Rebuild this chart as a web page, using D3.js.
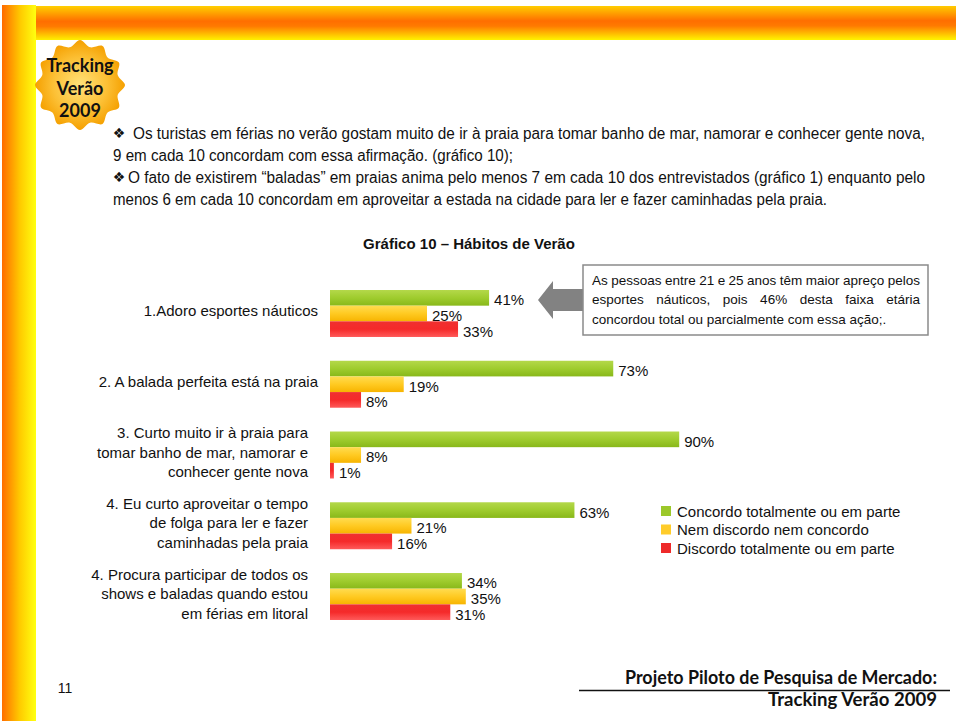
<!DOCTYPE html>
<html><head><meta charset="utf-8">
<script src="https://cdn.jsdelivr.net/npm/d3@7"></script>
<style>body{margin:0;background:#fff}svg{display:block}text{font-family:"Liberation Sans",Arial,sans-serif;fill:#111}</style>
</head><body>
<svg id="c" width="960" height="726"></svg>
<script>
const categories = [
  ["1.Adoro esportes náuticos"],
  ["2. A balada perfeita está na praia"],
  ["3. Curto muito ir à praia para", "tomar banho de mar, namorar e", "conhecer gente nova"],
  ["4. Eu curto aproveitar o tempo", "de folga para ler e fazer", "caminhadas pela praia"],
  ["4. Procura participar de todos os", "shows e baladas quando estou", "em férias em litoral"]
];
const concordo = [41, 73, 90, 63, 34];
const neutro   = [25, 19, 8, 21, 35];
const discordo = [33, 8, 1, 16, 31];
const seriesNames = ["Concordo totalmente ou em parte", "Nem discordo nem concordo", "Discordo totalmente ou em parte"];
const chartTitle = "Gráfico 10 – Hábitos de Verão";
const calloutLines = ["As pessoas entre 21 e 25 anos têm maior apreço pelos", "esportes náuticos, pois 46% desta faixa etária", "concordou total ou parcialmente com essa ação;."];
const bulletLines = [
  "Os turistas em férias no verão gostam muito de ir à praia para tomar banho de mar, namorar e conhecer gente nova,",
  "9 em cada 10 concordam com essa afirmação.  (gráfico 10);",
  "O fato de existirem “baladas” em praias anima pelo menos 7 em cada 10 dos entrevistados (gráfico 1) enquanto pelo",
  "menos 6 em cada 10 concordam em aproveitar a estada na cidade para ler e fazer caminhadas pela praia."
];
const logoLines = ["Tracking", "Verão", "2009"];
const footerLines = ["Projeto Piloto de Pesquisa de Mercado:", "Tracking Verão 2009"];
const pageNumber = "11";

const svg = d3.select("#c");
const defs = svg.append("defs");
function lg(id, stops, x2, y2){
  const g = defs.append("linearGradient").attr("id", id).attr("x1",0).attr("y1",0).attr("x2",x2).attr("y2",y2);
  stops.forEach(s => g.append("stop").attr("offset", s[0]).attr("stop-color", s[1]));
}
lg("gTop", [[0,"#ffd000"],[0.45,"#ff6e00"],[0.6,"#ff7a00"],[1,"#fff000"]], 0.02, 1);
lg("gLeft", [[0,"#ff6a00"],[0.55,"#ffcc00"],[1,"#ffff10"]], 1, 0.02);
lg("gGreen", [[0,"#b4d84a"],[0.5,"#9fcc2e"],[1,"#88b81a"]], 0, 1);
lg("gYellow", [[0,"#ffdc50"],[0.5,"#ffca22"],[1,"#f7b400"]], 0, 1);
lg("gRed", [[0,"#f03030"],[0.5,"#f52a2a"],[1,"#ff5a5a"]], 0, 1);
const rg = defs.append("radialGradient").attr("id","gSun");
rg.append("stop").attr("offset",0).attr("stop-color","#ffe27a");
rg.append("stop").attr("offset",0.6).attr("stop-color","#fcc035");
rg.append("stop").attr("offset",1).attr("stop-color","#f5a000");

// frame
svg.append("rect").attr("x",2).attr("y",5).attr("width",34).attr("height",716).attr("fill","url(#gLeft)");
svg.append("rect").attr("x",36).attr("y",6).attr("width",920).attr("height",34).attr("fill","url(#gTop)");

// logo sun
const cx = 80, cy = 85;
const pts = d3.range(24).map(i => [i * Math.PI * 2 / 24, i % 2 === 0 ? 45 : 39]);
svg.append("path")
  .attr("transform", `translate(${cx},${cy})`)
  .attr("d", d3.lineRadial().curve(d3.curveCardinalClosed.tension(0))(pts))
  .attr("fill", "url(#gSun)");
logoLines.forEach((t,i) => {
  svg.append("text").attr("x",cx).attr("y",cy - 20 + i*22.5).attr("text-anchor","middle")
    .attr("dominant-baseline","central")
    .style("font-family","Lato, 'Open Sans', sans-serif").style("font-weight","bold").style("font-size","18px")
    .text(t);
});

// bullet text
const bulletX = [133, 113, 128, 113];
const bulletEnd = [925, 513, 925, 827];
const bulletY = [133, 155, 177, 199];
bulletLines.forEach((t,i) => {
  svg.append("text").attr("x",bulletX[i]).attr("y",bulletY[i]).attr("dominant-baseline","central")
    .attr("textLength", bulletEnd[i]-bulletX[i]).attr("lengthAdjust","spacingAndGlyphs")
    .style("font-size","16px").text(t);
});
[[119,133],[119,177]].forEach(p => {
  svg.append("text").attr("x",p[0]).attr("y",p[1]).attr("text-anchor","middle").attr("dominant-baseline","central")
    .style("font-family","DejaVu Sans").style("font-size","14px").text("❖");
});

// title
svg.append("text").attr("x",469).attr("y",243).attr("text-anchor","middle").attr("dominant-baseline","central")
  .style("font-weight","bold").style("font-size","15px").text(chartTitle);

// chart
const x = d3.scaleLinear().domain([0,100]).range([330, 718]);
const y = d3.scaleBand().domain(d3.range(categories.length)).range([290, 620]).paddingInner(0.336).paddingOuter(0);
const keys = ["c","n","d"];
const ys = d3.scaleBand().domain(keys).range([0, y.bandwidth()]);
const fills = {c:"url(#gGreen)", n:"url(#gYellow)", d:"url(#gRed)"};
const rows = categories.map((c,i) => ({i, c:concordo[i], n:neutro[i], d:discordo[i]}));

const g = svg.append("g");
const grp = g.selectAll("g.grp").data(rows).join("g").attr("class","grp")
  .attr("transform", d => `translate(0,${y(d.i)})`);
grp.selectAll("rect").data(d => keys.map(k => ({k, v:d[k]}))).join("rect")
  .attr("x", x(0)).attr("y", d => ys(d.k)).attr("height", ys.bandwidth())
  .attr("width", d => x(d.v) - x(0)).attr("fill", d => fills[d.k]);
grp.selectAll("text.val").data(d => keys.map(k => ({k, v:d[k]}))).join("text").attr("class","val")
  .attr("x", d => x(d.v) + 5).attr("y", d => ys(d.k) + ys.bandwidth()/2 + 2)
  .attr("dominant-baseline","central").style("font-size","15px").text(d => d.v + "%");

// category labels
rows.forEach(r => {
  const lines = categories[r.i];
  const cyc = y(r.i) + y.bandwidth()/2 - 3;
  const ax = lines.length > 1 ? 308 : 318;
  lines.forEach((t,j) => {
    svg.append("text").attr("x", ax).attr("y", cyc + (j - (lines.length-1)/2) * 19.5)
      .attr("text-anchor","end").attr("dominant-baseline","central")
      .style("font-size","15px").text(t);
  });
});

// callout arrow + box
svg.append("path").attr("d","M538,300 L553,281 L553,289 L583,289 L583,311 L553,311 L553,319 Z").attr("fill","#828282");
svg.append("rect").attr("x",583).attr("y",265).attr("width",345).attr("height",70)
  .attr("fill","#fff").attr("stroke","#8a8a8a").attr("stroke-width",1.5);
calloutLines.forEach((t,i) => {
  const s = svg.append("text").attr("x",592).attr("y",280 + i*19.5).attr("dominant-baseline","central")
    .style("font-size","13.5px").text(t);
  if (i < 2) {
    const w = s.node().getComputedTextLength();
    const gaps = t.split(" ").length - 1;
    s.style("word-spacing", ((328 - w) / gaps) + "px");
  }
});

// legend
const legColors = ["#9cc82a","#ffcc2a","#ee2a2a"];
seriesNames.forEach((t,i) => {
  const yy = 511 + i*18.5;
  svg.append("rect").attr("x",661).attr("y",yy-5).attr("width",10).attr("height",10).attr("fill",legColors[i]);
  svg.append("text").attr("x",677).attr("y",yy).attr("dominant-baseline","central").style("font-size","15px").text(t);
});

// footer
svg.append("text").attr("x",65).attr("y",688).attr("text-anchor","middle").attr("dominant-baseline","central")
  .style("font-size","14px").text(pageNumber);
svg.append("line").attr("x1",579).attr("x2",950).attr("y1",690.5).attr("y2",690.5).attr("stroke","#111").attr("stroke-width",1.5);
svg.append("text").attr("x",625).attr("y",684).attr("textLength",312).attr("lengthAdjust","spacingAndGlyphs")
  .style("font-family","Lato, 'Open Sans', sans-serif").style("font-weight","bold").style("font-size","18px").text(footerLines[0]);
svg.append("text").attr("x",768).attr("y",706).attr("textLength",169).attr("lengthAdjust","spacingAndGlyphs")
  .style("font-family","Lato, 'Open Sans', sans-serif").style("font-weight","bold").style("font-size","18px").text(footerLines[1]);
</script>
</body></html>
